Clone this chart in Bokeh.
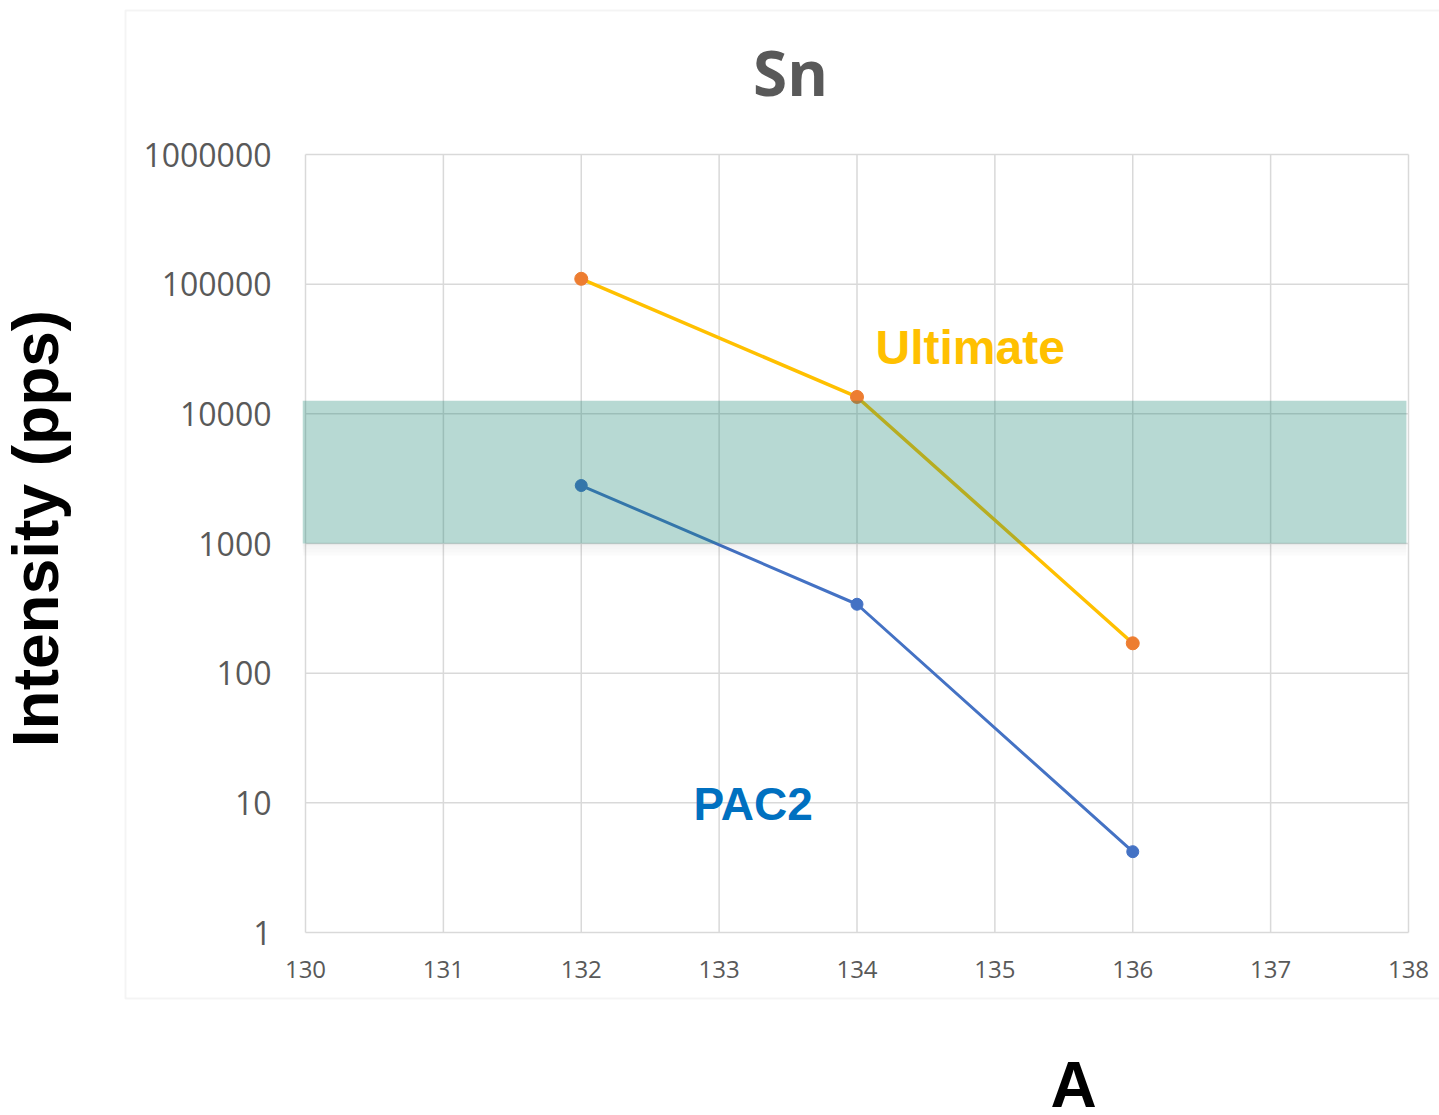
import math

from bokeh.plotting import figure
from bokeh.models import Label, BoxAnnotation, FixedTicker, BasicTickFormatter, Range1d
from bokeh.embed import file_html
from bokeh.resources import INLINE

# Sn isotopes: mass number vs. measured intensity (pps)
mass = [132, 134, 136]
ultimate = [110000, 13500, 170]
pac2 = [2800, 340, 4.2]

x_ticks = [130, 131, 132, 133, 134, 135, 136, 137, 138]
y_ticks = [1, 10, 100, 1000, 10000, 100000, 1000000]
y_tick_labels = ["1", "10", "100", "1000", "10000", "100000", "1000000"]

# shaded target window
band_x = [129.98, 137.985]
band_y = [1000, 12600]

GRID = "#D9D9D9"
TICK_TEXT = "#595959"

# page and plot-area geometry (pixels)
W, H = 1439, 1115
AREA_L, AREA_R, AREA_T, AREA_B = 305, 1408, 154, 932

# ranges chosen so the tick span lands on the plot area while the
# drawing surface covers the whole page
x_lo, x_hi = x_ticks[0], x_ticks[-1]
dx = (x_hi - x_lo) / (AREA_R - AREA_L)
ly_lo, ly_hi = math.log10(y_ticks[0]), math.log10(y_ticks[-1])
dly = (ly_hi - ly_lo) / (AREA_B - AREA_T)
x_range = Range1d(x_lo - AREA_L * dx, x_hi + (W - AREA_R) * dx)
y_range = Range1d(10 ** (ly_lo - (H - AREA_B) * dly), 10 ** (ly_hi + AREA_T * dly))

p = figure(
    width=W, height=H,
    y_axis_type="log",
    x_range=x_range, y_range=y_range,
    output_backend="svg", toolbar_location=None,
    min_border=0,
)
p.outline_line_color = None
p.background_fill_color = "white"
p.border_fill_color = "white"
p.xgrid.visible = False
p.ygrid.visible = False

# axes pinned to the plot-area edges
p.xaxis.fixed_location = y_ticks[0]
p.yaxis.fixed_location = x_ticks[0]
p.xaxis.ticker = FixedTicker(ticks=x_ticks)
p.yaxis.ticker = FixedTicker(ticks=y_ticks)
p.yaxis.formatter = BasicTickFormatter(use_scientific=False)
p.yaxis.major_label_overrides = {t: s for t, s in zip(y_ticks, y_tick_labels)}

for ax in (p.xaxis[0], p.yaxis[0]):
    ax.axis_line_color = None
    ax.major_tick_line_color = None
    ax.minor_tick_line_color = None
    ax.major_label_text_color = TICK_TEXT
    ax.major_label_text_font = "Open Sans"
p.xaxis.major_label_text_font_size = "24px"
p.xaxis.major_label_standoff = 22
p.yaxis.major_label_text_font_size = "32px"
p.yaxis.major_label_standoff = 28

# grid lines confined to the plot area
n_x, n_y = len(x_ticks), len(y_ticks)
p.segment(x0=x_ticks, y0=[y_ticks[0]] * n_x, x1=x_ticks, y1=[y_ticks[-1]] * n_x,
          line_color=GRID, line_width=1.5)
p.segment(x0=[x_ticks[0]] * n_y, y0=y_ticks, x1=[x_ticks[-1]] * n_y, y1=y_ticks,
          line_color=GRID, line_width=1.5)

# series
p.line(mass, ultimate, line_color="#FFC000", line_width=3.5)
p.scatter(mass, ultimate, size=13, fill_color="#ED7D31", line_color="#ED7D31")
p.line(mass, pac2, line_color="#4472C4", line_width=3)
p.scatter(mass, pac2, size=12, fill_color="#4472C4", line_color="#4472C4")

# soft shadow under the window, then the translucent window itself
step = 10 ** (-dly)
for k in range(4):
    top = band_y[0] * step ** (k * 3)
    bot = band_y[0] * step ** ((k + 1) * 3)
    p.add_layout(BoxAnnotation(
        left=band_x[0], right=band_x[1], top=top, bottom=bot,
        fill_color="#000000", fill_alpha=0.05 - 0.012 * k, line_color=None))
p.add_layout(BoxAnnotation(
    left=band_x[0], right=band_x[1], bottom=band_y[0], top=band_y[1],
    fill_color="#12806C", fill_alpha=0.3, line_color=None))

# outer chart border
p.add_layout(BoxAnnotation(
    left=125, right=W + 40, top=H - 10, bottom=H - 998,
    left_units="screen", right_units="screen", top_units="screen", bottom_units="screen",
    fill_alpha=0, line_color=GRID, line_width=2))


def lift(size_px):
    # alphabetic baseline sits ~0.41 em low in the rendered text
    return 0.41 * size_px


# texts
p.add_layout(Label(x=790, y=H - 97 + lift(62), x_units="screen", y_units="screen", text="Sn",
                   text_align="center", text_baseline="alphabetic",
                   text_font="Open Sans", text_font_style="bold",
                   text_font_size="62px", text_color=TICK_TEXT))
p.add_layout(Label(x=875, y=H - 367 + lift(48), x_units="screen", y_units="screen",
                   text="Ultimate",
                   text_align="left", text_baseline="alphabetic",
                   text_font="Liberation Sans", text_font_style="bold",
                   text_font_size="48px", text_color="#FFC000"))
p.add_layout(Label(x=693, y=H - 822 + lift(46), x_units="screen", y_units="screen",
                   text="PAC2",
                   text_align="left", text_baseline="alphabetic",
                   text_font="Liberation Sans", text_font_style="bold",
                   text_font_size="46px", text_color="#0070C0"))
p.add_layout(Label(x=62 - lift(64), y=H - 528, x_units="screen", y_units="screen",
                   text="Intensity (pps)", angle=math.pi / 2,
                   text_align="center", text_baseline="alphabetic",
                   text_font="Liberation Sans", text_font_style="bold",
                   text_font_size="64px", text_color="black"))
p.add_layout(Label(x=1073, y=H - 1111 + lift(64), x_units="screen", y_units="screen", text="A",
                   text_align="center", text_baseline="alphabetic",
                   text_font="Liberation Sans", text_font_style="bold",
                   text_font_size="64px", text_color="black"))

open("out.html", "w").write(file_html(p, INLINE))
